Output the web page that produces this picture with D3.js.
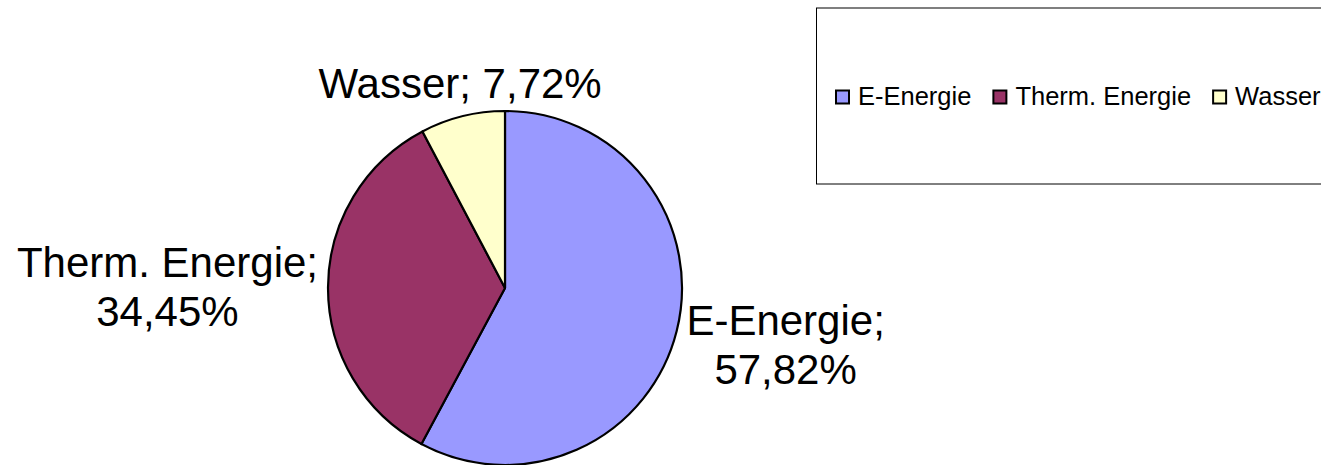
<!DOCTYPE html>
<html>
<head>
<meta charset="utf-8">
<script src="https://cdn.jsdelivr.net/npm/d3@7"></script>
<style>
  body { margin: 0; background: white; }
  svg { display: block; }
</style>
</head>
<body>
<div id="chart"></div>
<script>
const width = 1321,
height = 465;

// data
const categories = ["E-Energie", "Therm. Energie", "Wasser"];
const shares = [57.82, 34.45, 7.72];
const colors = ["#9999FF", "#993366", "#FFFFCC"];
// how each data label wraps
const labelBreaks = [true, true, false];

const pieCenter = { x: 505, y: 288 },
radius = 177,
labelFont = 42,
legendFont = 25;

const fmt = d3.formatLocale({ decimal: ",", thousands: ".", grouping: [3], currency: ["", "€"] }).format(".2f");

const svg = d3.select("#chart").
append("svg").
attr("width", width).
attr("height", height).
style("font-family", "'Liberation Sans', Arial, sans-serif");

const data = categories.map((c, i) => ({ name: c, value: shares[i], color: colors[i], wrap: labelBreaks[i] }));

const pie = d3.pie().
sort(null).
value(d => d.value);

const arc = d3.arc().
innerRadius(0).
outerRadius(radius);

const arcs = pie(data);

const pieG = svg.append("g").
attr("transform", `translate(${pieCenter.x},${pieCenter.y})`);

pieG.selectAll("path").
data(arcs).
enter().
append("path").
attr("d", arc).
attr("fill", d => d.data.color).
attr("stroke", "#000").
attr("stroke-width", 2.2).
attr("stroke-linejoin", "round");

// data labels outside the slices
const gap = 10;
arcs.forEach(a => {
  const mid = (a.startAngle + a.endAngle) / 2,
  sx = Math.sin(mid),
  cy = -Math.cos(mid),
  px = (radius + gap) * sx,
  py = (radius + gap) * cy;

  const lines = a.data.wrap ?
  [a.data.name + ";", fmt(a.data.value) + "%"] :
  [a.data.name + "; " + fmt(a.data.value) + "%"];

  const t = pieG.append("text").
  attr("text-anchor", "middle").
  style("font-size", labelFont + "px").
  attr("fill", "#000");

  t.selectAll("tspan").
  data(lines).
  enter().
  append("tspan").
  attr("x", 0).
  attr("dy", (d, i) => i === 0 ? 0 : labelFont * 1.17).
  text(d => d);

  const bb = t.node().getBBox();
  let bx = px;
  if (sx > 0.5) bx = px + bb.width / 2;else
  if (sx < -0.5) bx = px - bb.width / 2;
  const by = py + cy * bb.height / 2;
  const ox = bx - (bb.x + bb.width / 2),
  oy = by - (bb.y + bb.height / 2);
  t.attr("transform", `translate(${ox},${oy})`);
});

// legend
const legend = svg.append("g").attr("id", "legend");

legend.append("rect").
attr("x", 816.5).
attr("y", 8).
attr("width", 560).
attr("height", 176).
attr("fill", "white").
attr("stroke", "#000").
attr("stroke-width", 1);

const sq = 13,
stretch = 1.02;
let lx = 836;
const ly = 97;
data.forEach(d => {
  legend.append("rect").
  attr("x", lx).
  attr("y", ly - sq / 2).
  attr("width", sq).
  attr("height", sq).
  attr("fill", d.color).
  attr("stroke", "#000").
  attr("stroke-width", 2);

  const tx = lx + sq + 9;
  const t = legend.append("text").
  attr("transform", `translate(${tx},${ly + 8}) scale(${stretch},1)`).
  style("font-size", legendFont + "px").
  attr("fill", "#000").
  text(d.name);

  lx = tx + t.node().getComputedTextLength() * stretch + 22;
});
</script>
</body>
</html>
